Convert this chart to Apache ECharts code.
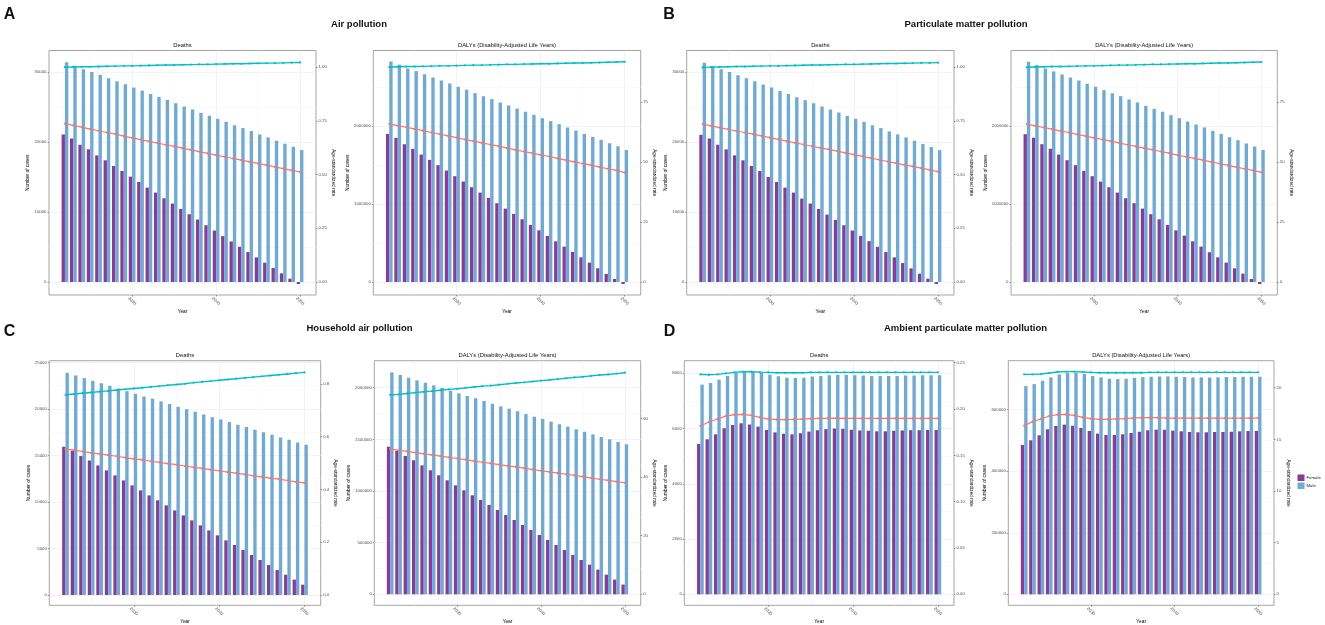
<!DOCTYPE html>
<html><head><meta charset="utf-8">
<script src="https://cdn.jsdelivr.net/npm/echarts@6/dist/echarts.min.js"></script>
<style>html,body{margin:0;padding:0;background:#fff}#c{width:1325px;height:625px}</style>
</head><body><div id="c"></div>
<script>
const years = [2022,2023,2024,2025,2026,2027,2028,2029,2030,2031,2032,2033,2034,2035,2036,2037,2038,2039,2040,2041,2042,2043,2044,2045,2046,2047,2048,2049,2050];
const xMajorTicks = [2030, 2040, 2050];
const xMinorTicks = [2025, 2035, 2045];

// A: Air pollution
const airDeathsFemale = [21090,20520,19620,18960,18100,17390,16580,15870,15060,14300,13490,12780,11970,11210,10450,9690,8930,8120,7360,6560,5800,5040,4280,3520,2760,2000,1240,480,-290];
const airDeathsMale = [31400,30880,30400,30020,29600,29120,28690,28270,27790,27360,26890,26460,26030,25560,25080,24660,24180,23750,23330,22900,22420,22000,21570,21090,20670,20190,19760,19340,18860];
const airDeathsAsrFemale = [0.737,0.729,0.721,0.712,0.704,0.696,0.688,0.679,0.671,0.663,0.655,0.647,0.639,0.631,0.623,0.615,0.607,0.599,0.591,0.583,0.575,0.567,0.559,0.552,0.544,0.536,0.528,0.520,0.512];
const airDeathsAsrMale = [1.000,1.001,1.002,1.002,1.003,1.004,1.005,1.006,1.006,1.007,1.008,1.009,1.010,1.010,1.011,1.012,1.013,1.013,1.014,1.015,1.016,1.016,1.017,1.018,1.019,1.019,1.020,1.021,1.022];
const airDalysFemale = [1897000,1846000,1765000,1705000,1632000,1564000,1496000,1427000,1355000,1286000,1214000,1145000,1077000,1009000,940000,872000,803000,731000,662000,590000,521000,453000,385000,316000,248000,175000,103000,38000,-26000];
const airDalysMale = [2825000,2782000,2735000,2701000,2662000,2620000,2581000,2543000,2500000,2462000,2419000,2380000,2342000,2299000,2261000,2222000,2179000,2141000,2098000,2060000,2021000,1979000,1940000,1897000,1859000,1821000,1778000,1739000,1692000];
const airDalysAsrFemale = [65.9,65.2,64.5,63.8,63.1,62.3,61.6,60.9,60.2,59.4,58.7,58.0,57.3,56.6,55.8,55.1,54.4,53.7,53.0,52.3,51.5,50.8,50.1,49.4,48.7,47.9,47.2,46.5,45.6];
const airDalysAsrMale = [89.6,89.7,89.8,89.8,89.9,90.0,90.1,90.1,90.2,90.3,90.4,90.4,90.5,90.6,90.7,90.7,90.8,90.9,91.0,91.0,91.1,91.2,91.3,91.3,91.4,91.5,91.6,91.7,91.8];

// B: Particulate matter pollution
const pmDeathsFemale = [21040,20520,19620,18960,18100,17390,16580,15870,15010,14300,13490,12780,11920,11210,10450,9640,8880,8120,7360,6600,5840,5040,4280,3520,2710,1950,1190,480,-290];
const pmDeathsMale = [31350,30880,30400,30020,29550,29120,28690,28220,27790,27320,26890,26410,25990,25560,25080,24660,24230,23750,23330,22900,22420,22000,21520,21090,20670,20190,19720,19290,18860];
const pmDeathsAsrFemale = [0.735,0.727,0.719,0.711,0.703,0.696,0.688,0.680,0.672,0.664,0.656,0.648,0.640,0.632,0.624,0.617,0.609,0.601,0.593,0.585,0.577,0.569,0.561,0.553,0.545,0.538,0.530,0.522,0.514];
const pmDeathsAsrMale = [0.999,1.000,1.001,1.002,1.003,1.003,1.004,1.005,1.006,1.006,1.007,1.008,1.009,1.010,1.010,1.011,1.012,1.013,1.013,1.014,1.015,1.016,1.017,1.017,1.018,1.019,1.020,1.020,1.021];
const pmDalysFemale = [1893000,1846000,1765000,1705000,1632000,1560000,1496000,1423000,1355000,1286000,1214000,1145000,1073000,1009000,940000,868000,803000,731000,662000,594000,521000,453000,381000,316000,248000,175000,107000,38000,-26000];
const pmDalysMale = [2821000,2778000,2735000,2697000,2658000,2620000,2581000,2538000,2500000,2457000,2419000,2380000,2338000,2299000,2256000,2218000,2179000,2137000,2098000,2055000,2017000,1979000,1936000,1897000,1855000,1816000,1774000,1735000,1692000];
const pmDalysAsrFemale = [65.8,65.1,64.4,63.7,63.0,62.3,61.5,60.8,60.1,59.4,58.7,58.0,57.2,56.5,55.8,55.1,54.4,53.7,52.9,52.2,51.5,50.8,50.1,49.4,48.6,47.9,47.2,46.5,45.7];
const pmDalysAsrMale = [89.5,89.6,89.7,89.8,89.8,89.9,90.0,90.1,90.1,90.2,90.3,90.4,90.4,90.5,90.6,90.7,90.7,90.8,90.9,91.0,91.0,91.1,91.2,91.3,91.3,91.4,91.5,91.6,91.7];

// C: Household air pollution
const hapDeathsFemale = [15930,15500,14930,14460,13920,13390,12850,12310,11780,11240,10700,10170,9630,9090,8550,8020,7480,6940,6410,5870,5370,4830,4300,3760,3220,2680,2180,1650,1110];
const hapDeathsMale = [23870,23590,23300,23010,22760,22480,22190,21900,21620,21330,21080,20800,20510,20220,19970,19690,19400,19110,18860,18580,18290,18040,17750,17500,17220,16930,16680,16390,16140];
const hapDeathsAsrFemale = [0.553,0.549,0.544,0.539,0.535,0.530,0.526,0.521,0.516,0.512,0.507,0.503,0.498,0.494,0.489,0.484,0.480,0.475,0.471,0.466,0.462,0.457,0.452,0.448,0.443,0.439,0.434,0.429,0.425];
const hapDeathsAsrMale = [0.759,0.762,0.765,0.768,0.771,0.774,0.777,0.780,0.783,0.786,0.789,0.792,0.795,0.798,0.801,0.805,0.808,0.811,0.814,0.817,0.820,0.823,0.826,0.829,0.832,0.835,0.838,0.841,0.844];
const hapDalysFemale = [1429000,1390000,1339000,1297000,1248000,1200000,1152000,1103000,1055000,1006000,958000,913000,865000,816000,768000,719000,671000,623000,574000,526000,477000,429000,381000,332000,287000,239000,190000,142000,94000];
const hapDalysMale = [2148000,2123000,2097000,2071000,2048000,2023000,1997000,1971000,1945000,1919000,1897000,1871000,1845000,1819000,1797000,1771000,1745000,1719000,1697000,1671000,1645000,1623000,1597000,1574000,1548000,1523000,1500000,1474000,1452000];
const hapDalysAsrFemale = [49.7,49.2,48.8,48.4,48.0,47.6,47.2,46.8,46.4,46.0,45.5,45.1,44.7,44.3,43.9,43.5,43.1,42.6,42.2,41.8,41.4,41.0,40.6,40.2,39.7,39.3,38.9,38.5,38.1];
const hapDalysAsrMale = [68.1,68.3,68.6,68.9,69.2,69.4,69.7,70.0,70.2,70.5,70.8,71.1,71.3,71.6,71.9,72.2,72.4,72.7,73.0,73.2,73.5,73.8,74.1,74.3,74.6,74.9,75.1,75.4,75.7];

// D: Ambient particulate matter pollution
const ambDeathsFemale = [5440,5610,5790,6010,6130,6190,6150,6070,5950,5860,5810,5790,5830,5890,5940,5980,6000,5990,5960,5930,5920,5900,5900,5920,5930,5940,5940,5950,5950];
const ambDeathsMale = [7590,7650,7770,7900,8010,8070,8070,8020,7950,7890,7840,7830,7840,7880,7900,7930,7940,7940,7930,7920,7900,7900,7900,7900,7920,7920,7930,7930,7930];
const ambDeathsAsrFemale = [0.1817,0.1860,0.1892,0.1924,0.1939,0.1942,0.1932,0.1910,0.1892,0.1885,0.1885,0.1888,0.1892,0.1896,0.1899,0.1899,0.1903,0.1899,0.1899,0.1899,0.1899,0.1899,0.1899,0.1899,0.1899,0.1899,0.1899,0.1899,0.1899];
const ambDeathsAsrMale = [0.2374,0.2371,0.2374,0.2385,0.2396,0.2403,0.2403,0.2399,0.2396,0.2392,0.2392,0.2392,0.2392,0.2396,0.2396,0.2396,0.2396,0.2396,0.2396,0.2396,0.2396,0.2396,0.2396,0.2396,0.2396,0.2396,0.2396,0.2396,0.2396];
const ambDalysFemale = [485400,500500,516800,536200,547000,551400,548100,540500,530800,522200,517800,517800,520000,524300,528600,532900,535100,535100,531900,529700,527600,526500,526500,527600,527600,528600,529700,530800,530800];
const ambDalysMale = [676800,683200,694100,704900,714600,720000,720000,715700,709200,704900,700500,699500,700500,703800,706000,707000,708100,708100,707000,706000,704900,704900,704900,704900,706000,706000,707000,707000,707000];
const ambDalysAsrFemale = [16.32,16.71,16.97,17.26,17.39,17.42,17.32,17.13,17.00,16.94,16.94,16.97,17.00,17.06,17.10,17.10,17.10,17.06,17.06,17.06,17.06,17.06,17.06,17.06,17.06,17.06,17.06,17.06,17.06];
const ambDalysAsrMale = [21.29,21.29,21.32,21.42,21.52,21.55,21.55,21.52,21.48,21.45,21.45,21.45,21.45,21.45,21.45,21.48,21.48,21.48,21.48,21.48,21.48,21.48,21.48,21.48,21.48,21.48,21.48,21.48,21.48];

// Tick labels
const ticksDeaths30k = [0,10000,20000,30000];
const minorDeaths30k = [5000,15000,25000];
const ticksRate1 = [0,0.25,0.5,0.75,1.0];
const ticksDalys3M = [0,1000000,2000000];
const minorDalys3M = [500000,1500000,2500000];
const ticksRate75 = [0,25,50,75];
const ticksDeaths25k = [0,5000,10000,15000,20000,25000];
const minorDeaths25k = [2500,7500,12500,17500,22500];
const ticksRate08 = [0,0.2,0.4,0.6,0.8];
const ticksDalys2M = [0,500000,1000000,1500000,2000000];
const minorDalys2M = [250000,750000,1250000,1750000,2250000];
const ticksRate60 = [0,20,40,60];
const ticksDeaths8k = [0,2000,4000,6000,8000];
const minorDeaths8k = [1000,3000,5000,7000];
const ticksRate025 = [0,0.05,0.1,0.15,0.2,0.25];
const ticksDalys600k = [0,200000,400000,600000];
const minorDalys600k = [100000,300000,500000,700000];
const ticksRate20 = [0,5,10,15,20];

const subDeaths = 'Deaths';
const subDalys = 'DALYs (Disability-Adjusted Life Years)';

const PURPLE = '#8B3A98', BLUE = '#6DAAD6', RED = '#F8766D', CYAN = '#00BFC4';
const FONT = '"Liberation Sans", Arial, Helvetica, sans-serif';

const panels = [
  {sub:subDeaths, f:airDeathsFemale, m:airDeathsMale, rf:airDeathsAsrFemale, rm:airDeathsAsrMale, lt:ticksDeaths30k, lm:minorDeaths30k, rt:ticksRate1, dec:2, ly:[-1854,33090], ry:[-0.0604,1.0776], g:[49,50.5,267,244.5], lg:14, rg:13},
  {sub:subDalys, f:airDalysFemale, m:airDalysMale, rf:airDalysAsrFemale, rm:airDalysAsrMale, lt:ticksDalys3M, lm:minorDalys3M, rt:ticksRate75, dec:0, ly:[-166700,2965000], ry:[-5.43,96.5], g:[373.3,50.5,267.4,244.5], lg:17.3, rg:7.5},
  {sub:subDeaths, f:pmDeathsFemale, m:pmDeathsMale, rf:pmDeathsAsrFemale, rm:pmDeathsAsrMale, lt:ticksDeaths30k, lm:minorDeaths30k, rt:ticksRate1, dec:2, ly:[-1854,33090], ry:[-0.0604,1.0776], g:[686.7,50.5,267.3,244.5], lg:14, rg:11},
  {sub:subDalys, f:pmDalysFemale, m:pmDalysMale, rf:pmDalysAsrFemale, rm:pmDalysAsrMale, lt:ticksDalys3M, lm:minorDalys3M, rt:ticksRate75, dec:0, ly:[-166700,2965000], ry:[-5.43,96.5], g:[1011,50.5,266.3,244.5], lg:18, rg:10},
  {sub:subDeaths, f:hapDeathsFemale, m:hapDeathsMale, rf:hapDeathsAsrFemale, rm:hapDeathsAsrMale, lt:ticksDeaths25k, lm:minorDeaths25k, rt:ticksRate08, dec:1, ly:[-1107,25175], ry:[-0.0391,0.8883], g:[49.3,360.7,271.4,244.6], lg:14.3, rg:8},
  {sub:subDalys, f:hapDalysFemale, m:hapDalysMale, rf:hapDalysAsrFemale, rm:hapDalysAsrMale, lt:ticksDalys2M, lm:minorDalys2M, rt:ticksRate60, dec:0, ly:[-106500,2261000], ry:[-3.76,79.8], g:[374.3,360.7,266.4,244.6], lg:18.3, rg:7.5},
  {sub:subDeaths, f:ambDeathsFemale, m:ambDeathsMale, rf:ambDeathsAsrFemale, rm:ambDeathsAsrMale, lt:ticksDeaths8k, lm:minorDeaths8k, rt:ticksRate025, dec:2, ly:[-398,8456], ry:[-0.01187,0.2522], g:[684.3,360.7,269.7,244.6], lg:11.6, rg:11.6},
  {sub:subDalys, f:ambDalysFemale, m:ambDalysMale, rf:ambDalysAsrFemale, rm:ambDalysAsrMale, lt:ticksDalys600k, lm:minorDalys600k, rt:ticksRate20, dec:0, ly:[-35750,759200], ry:[-1.065,22.61], g:[1008.3,360.7,265.7,244.6], lg:15.6, rg:12.3}
];

const grid = [], xAxis = [], yAxis = [], series = [];
const titles = [
  {text:'A', left:9.5, top:14.5, textStyle:{fontSize:16, fontWeight:'bold'}},
  {text:'B', left:669, top:14.5, textStyle:{fontSize:16, fontWeight:'bold'}},
  {text:'C', left:9.5, top:332, textStyle:{fontSize:16, fontWeight:'bold'}},
  {text:'D', left:669.5, top:332, textStyle:{fontSize:16, fontWeight:'bold'}},
  {text:'Air pollution', left:359, top:24, textStyle:{fontSize:9.5, fontWeight:'bold'}},
  {text:'Particulate matter pollution', left:966, top:24.5, textStyle:{fontSize:9.5, fontWeight:'bold'}},
  {text:'Household air pollution', left:359.5, top:328, textStyle:{fontSize:9.5, fontWeight:'bold'}},
  {text:'Ambient particulate matter pollution', left:965.5, top:328, textStyle:{fontSize:9.5, fontWeight:'bold'}}
];
const tickStyle = {color:'#333', width:0.5};
const labelColor = '#4D4D4D';

panels.forEach((p, i) => {
  const [gl, gt, gw, gh] = p.g;
  grid.push({left:gl, top:gt, width:gw, height:gh, show:true, backgroundColor:'#fff', borderColor:'#8f8f8f', borderWidth:0.8, containLabel:false, outerBoundsMode:'none'});
  titles.push({text:p.sub, left:gl + gw/2, top:gt - 5.5, textStyle:{fontSize:5.8, fontWeight:'normal'}});
  // main x
  xAxis.push({type:'value', gridIndex:i, min:2020.1, max:2051.9, position:'bottom',
    axisLine:{show:false, onZero:false},
    axisTick:{show:true, length:1.5, customValues:xMajorTicks, lineStyle:tickStyle},
    axisLabel:{customValues:xMajorTicks, rotate:-45, fontSize:4.3, color:labelColor, margin:6, align:'center', verticalAlign:'middle', formatter:v=>String(v)},
    splitLine:{show:true, lineStyle:{color:'#EBEBEB', width:0.6}},
    name:'Year', nameLocation:'middle', nameGap:10.8, nameTextStyle:{fontSize:4.8, color:'#000'}});
  // minor x grid
  xAxis.push({type:'value', gridIndex:i, min:2020.1, max:2051.9, position:'top',
    axisLine:{show:false, onZero:false}, axisTick:{show:false, customValues:xMinorTicks},
    axisLabel:{show:false}, splitLine:{show:true, lineStyle:{color:'#F5F5F5', width:0.5}}});
  // left y
  yAxis.push({type:'value', gridIndex:i, position:'left', min:p.ly[0], max:p.ly[1],
    axisLine:{show:false, onZero:false},
    axisTick:{show:true, length:1.5, customValues:p.lt, lineStyle:tickStyle},
    axisLabel:{customValues:p.lt, fontSize:4.3, color:labelColor, margin:2.5, formatter:v=>String(v)},
    splitLine:{show:true, lineStyle:{color:'#EBEBEB', width:0.6}},
    name:'Number of cases', nameLocation:'middle', nameGap:p.lg, nameRotate:90, nameTextStyle:{fontSize:4.8, color:'#000'}});
  // right y
  yAxis.push({type:'value', gridIndex:i, position:'right', min:p.ry[0], max:p.ry[1],
    axisLine:{show:false, onZero:false},
    axisTick:{show:true, length:1.5, customValues:p.rt, lineStyle:tickStyle},
    axisLabel:{customValues:p.rt, fontSize:4.3, color:labelColor, margin:2.5, formatter:v=>Number(v).toFixed(p.dec)},
    splitLine:{show:false},
    name:'Age-standardized rate', nameLocation:'middle', nameGap:p.rg, nameRotate:-90, nameTextStyle:{fontSize:4.8, color:'#000'}});
  // minor y grid
  yAxis.push({type:'value', gridIndex:i, position:'left', min:p.ly[0], max:p.ly[1],
    axisLine:{show:false, onZero:false}, axisTick:{show:false, customValues:p.lm},
    axisLabel:{show:false}, splitLine:{show:true, lineStyle:{color:'#F5F5F5', width:0.5}}});

  const xi = i*2, yl = i*3, yr = i*3+1;
  series.push({type:'bar', name:'Female', xAxisIndex:xi, yAxisIndex:yl, barWidth:3.35, barGap:'0%',
    itemStyle:{color:PURPLE}, data:years.map((y,k)=>[y, p.f[k]]), z:2});
  series.push({type:'bar', name:'Male', xAxisIndex:xi, yAxisIndex:yl, barWidth:3.35, barGap:'0%',
    itemStyle:{color:BLUE}, data:years.map((y,k)=>[y, p.m[k]]), z:2});
  series.push({type:'line', name:'Female', xAxisIndex:xi, yAxisIndex:yr, symbol:'circle', symbolSize:2.2,
    lineStyle:{color:RED, width:1.2}, itemStyle:{color:RED}, data:years.map((y,k)=>[y, p.rf[k]]), z:4});
  series.push({type:'line', name:'Male', xAxisIndex:xi, yAxisIndex:yr, symbol:'circle', symbolSize:2.2,
    lineStyle:{color:CYAN, width:1.4}, itemStyle:{color:CYAN}, data:years.map((y,k)=>[y, p.rm[k]]), z:4});
});

titles.forEach(t => { t.textAlign = 'center'; t.textVerticalAlign = 'middle'; t.padding = 0; t.textStyle.color = '#111'; t.textStyle.fontFamily = FONT; });

const chart = echarts.init(document.getElementById('c'), null, {renderer:'canvas'});
chart.setOption({
  animation:false,
  backgroundColor:'#fff',
  textStyle:{fontFamily:FONT},
  title:titles,
  legend:{orient:'vertical', left:1297.5, top:474.5, padding:0, itemWidth:7, itemHeight:6.5, itemGap:1.5,
    textStyle:{fontSize:4.3, color:'#222', padding:[0,0,0,-3]},
    data:[{name:'Female', icon:'rect'}, {name:'Male', icon:'rect'}]},
  grid, xAxis, yAxis, series
});
</script></body></html>
